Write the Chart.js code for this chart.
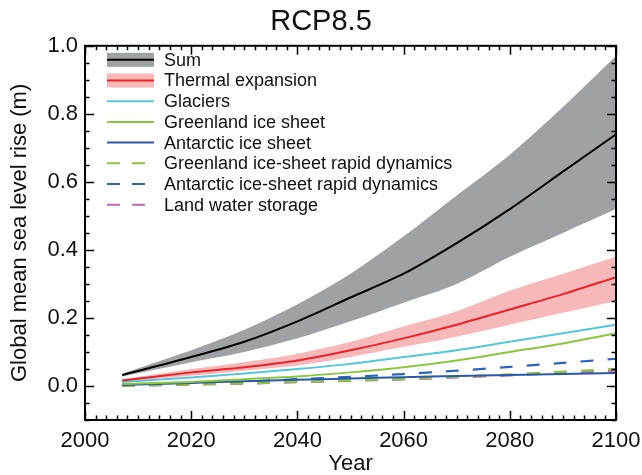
<!DOCTYPE html>
<html>
<head>
<meta charset="utf-8">
<script src="https://cdn.jsdelivr.net/npm/chart.js@4"></script>
<style>
  html, body { margin: 0; padding: 0; background: #fff; }
  #wrap { width: 642px; height: 475px; }
</style>
</head>
<body>
<div id="wrap"><canvas id="c"></canvas></div>
<script>
// values
const years = [2007, 2020, 2030, 2040, 2050, 2060, 2070, 2080, 2090, 2100]
const sumMid   = [0.032, 0.085, 0.13, 0.19, 0.26, 0.33, 0.42, 0.52, 0.63, 0.74]
const sumHigh  = [0.036, 0.105, 0.165, 0.24, 0.33, 0.44, 0.56, 0.68, 0.82, 0.97]
const sumLow   = [0.028, 0.07, 0.10, 0.14, 0.19, 0.245, 0.30, 0.38, 0.45, 0.52]
const thermMid  = [0.016, 0.04, 0.055, 0.075, 0.105, 0.14, 0.18, 0.225, 0.27, 0.32]
const thermHigh = [0.02, 0.05, 0.07, 0.095, 0.13, 0.175, 0.22, 0.28, 0.33, 0.38]
const thermLow  = [0.012, 0.03, 0.045, 0.06, 0.085, 0.115, 0.145, 0.18, 0.215, 0.25]
const glaciers   = [0.012, 0.025, 0.037, 0.05, 0.065, 0.085, 0.105, 0.13, 0.155, 0.18]
const greenland  = [0.006, 0.012, 0.02, 0.028, 0.04, 0.055, 0.075, 0.10, 0.125, 0.155]
const antarctic  = [0.003, 0.009, 0.014, 0.018, 0.022, 0.026, 0.029, 0.032, 0.035, 0.038]
const greenDyn   = [0.001, 0.005, 0.008, 0.012, 0.016, 0.021, 0.027, 0.034, 0.042, 0.05]
const antDyn     = [0.003, 0.008, 0.013, 0.02, 0.027, 0.035, 0.045, 0.056, 0.068, 0.08]
const landWater  = [0.0, 0.004, 0.007, 0.011, 0.015, 0.019, 0.025, 0.031, 0.038, 0.045]

const xTicks = [2000, 2020, 2040, 2060, 2080, 2100]
const yTicks = [0.0, 0.2, 0.4, 0.6, 0.8, 1.0]

const FONT = '"Liberation Sans", Arial, Helvetica, sans-serif'
const GRAY = '#9fa2a4', PINK = '#f6b8b9'
const RED = '#e8232b', CYAN = '#55c7d8', GREEN = '#8cc63f', BLUE = '#2b58a8', BLUE2 = '#2f64b8', MAG = '#c866b3'

const pts = arr => arr.map((v, i) => ({ x: years[i], y: v }))

function line(label, arr, color, width, dash) {
  return {
    label, data: pts(arr), borderColor: color, borderWidth: width,
    borderDash: dash || [], pointRadius: 0, fill: false, tension: 0.3
  }
}

function band(label, arr, color) {
  return {
    label, data: pts(arr), borderWidth: 0, pointRadius: 0, tension: 0.3,
    backgroundColor: color, fill: color ? '+1' : false
  }
}

const datasets = [
  line('Sum', sumMid, '#000', 2),
  line('Thermal expansion', thermMid, RED, 2),
  line('Glaciers', glaciers, CYAN, 2),
  line('Greenland ice sheet', greenland, GREEN, 2),
  line('Antarctic ice sheet', antarctic, BLUE, 2),
  line('Greenland ice-sheet rapid dynamics', greenDyn, GREEN, 2.2, [13, 14]),
  line('Antarctic ice-sheet rapid dynamics', antDyn, BLUE2, 2.2, [13, 14]),
  line('Land water storage', landWater, MAG, 2.2, [13, 14]),
  // bands (drawn underneath)
  band('thermHigh', thermHigh, PINK),
  band('thermLow', thermLow),
  band('sumHigh', sumHigh, GRAY),
  band('sumLow', sumLow)
]

// legend entries drawn inside the plot, like the original
const legendItems = [
  { text: 'Sum', color: '#000', band: GRAY },
  { text: 'Thermal expansion', color: RED, band: PINK },
  { text: 'Glaciers', color: CYAN },
  { text: 'Greenland ice sheet', color: GREEN },
  { text: 'Antarctic ice sheet', color: BLUE },
  { text: 'Greenland ice-sheet rapid dynamics', color: GREEN, dash: true },
  { text: 'Antarctic ice-sheet rapid dynamics', color: BLUE2, dash: true },
  { text: 'Land water storage', color: MAG, dash: true }
]

const framePlugin = {
  id: 'frame',
  afterDatasetsDraw(chart) {
    const { ctx, chartArea: a, scales } = chart
    const xs = scales.x, ys = scales.y
    ctx.save()
    ctx.strokeStyle = '#000'
    ctx.lineWidth = 1.5
    ctx.beginPath()
    for (let yr = 2000; yr <= 2100; yr += 2) {
      const px = Math.round(xs.getPixelForValue(yr)) + 0.5
      const len = yr % 20 === 0 ? 9 : 4.5
      ctx.moveTo(px, a.bottom); ctx.lineTo(px, a.bottom - len)
      ctx.moveTo(px, a.top); ctx.lineTo(px, a.top + len)
    }
    for (let k = -2; k <= 20; k++) {
      const v = k * 0.05
      const py = Math.round(ys.getPixelForValue(v)) + 0.5
      const len = k % 4 === 0 ? 9 : 4.5
      ctx.moveTo(a.left, py); ctx.lineTo(a.left + len, py)
      ctx.moveTo(a.right, py); ctx.lineTo(a.right - len, py)
    }
    ctx.stroke()
    ctx.lineWidth = 2
    ctx.strokeRect(a.left, a.top, a.right - a.left, a.bottom - a.top)

    // legend
    const x0 = a.left + 22, x1 = a.left + 69, tx = a.left + 79
    let y = a.top + 14
    ctx.font = '18px ' + FONT
    ctx.textBaseline = 'middle'
    legendItems.forEach(it => {
      if (it.band) {
        ctx.fillStyle = it.band
        ctx.fillRect(x0, y - 7, x1 - x0, 14)
      }
      ctx.strokeStyle = it.color
      ctx.lineWidth = 2
      ctx.setLineDash(it.dash ? [13, 12] : [])
      ctx.beginPath(); ctx.moveTo(x0, y); ctx.lineTo(x1, y); ctx.stroke()
      ctx.setLineDash([])
      ctx.fillStyle = '#111'
      ctx.fillText(it.text, tx, y + 1)
      y += 20.7
    })
    ctx.restore()
  }
}

new Chart(document.getElementById('c'), {
  type: 'line',
  data: { datasets },
  plugins: [framePlugin],
  options: {
    responsive: true,
    maintainAspectRatio: false,
    animation: false,
    layout: { padding: 0 },
    plugins: {
      legend: { display: false },
      tooltip: { enabled: false },
      title: {
        display: true, text: 'RCP8.5', color: '#111',
        font: { family: FONT, size: 29, weight: 'normal' },
        padding: { top: 5, bottom: 6 }
      }
    },
    scales: {
      x: {
        type: 'linear', min: 2000, max: 2100,
        grid: { display: false, drawTicks: false },
        border: { display: false },
        afterBuildTicks: s => { s.ticks = xTicks.map(v => ({ value: v })) },
        ticks: { color: '#111', padding: 8, maxRotation: 0, font: { family: FONT, size: 22 }, callback: v => String(v) },
        title: { display: true, text: 'Year', color: '#111', padding: { top: 0, bottom: -2 }, font: { family: FONT, size: 22 } },
        afterFit: s => { s.height = 55; s.paddingLeft = 0; s.paddingRight = 26 }
      },
      y: {
        type: 'linear', min: -0.1, max: 1.0,
        grid: { display: false, drawTicks: false },
        border: { display: false },
        afterBuildTicks: s => { s.ticks = yTicks.map(v => ({ value: v })) },
        ticks: { color: '#111', padding: 7, font: { family: FONT, size: 22 }, callback: v => v.toFixed(1) },
        title: { display: true, text: 'Global mean sea level rise (m)', color: '#111', padding: { top: 7, bottom: 0 }, font: { family: FONT, size: 22 } },
        afterFit: s => { s.width = 85; s.paddingTop = 0; s.paddingBottom = 0 }
      }
    }
  }
})
</script>
</body>
</html>
